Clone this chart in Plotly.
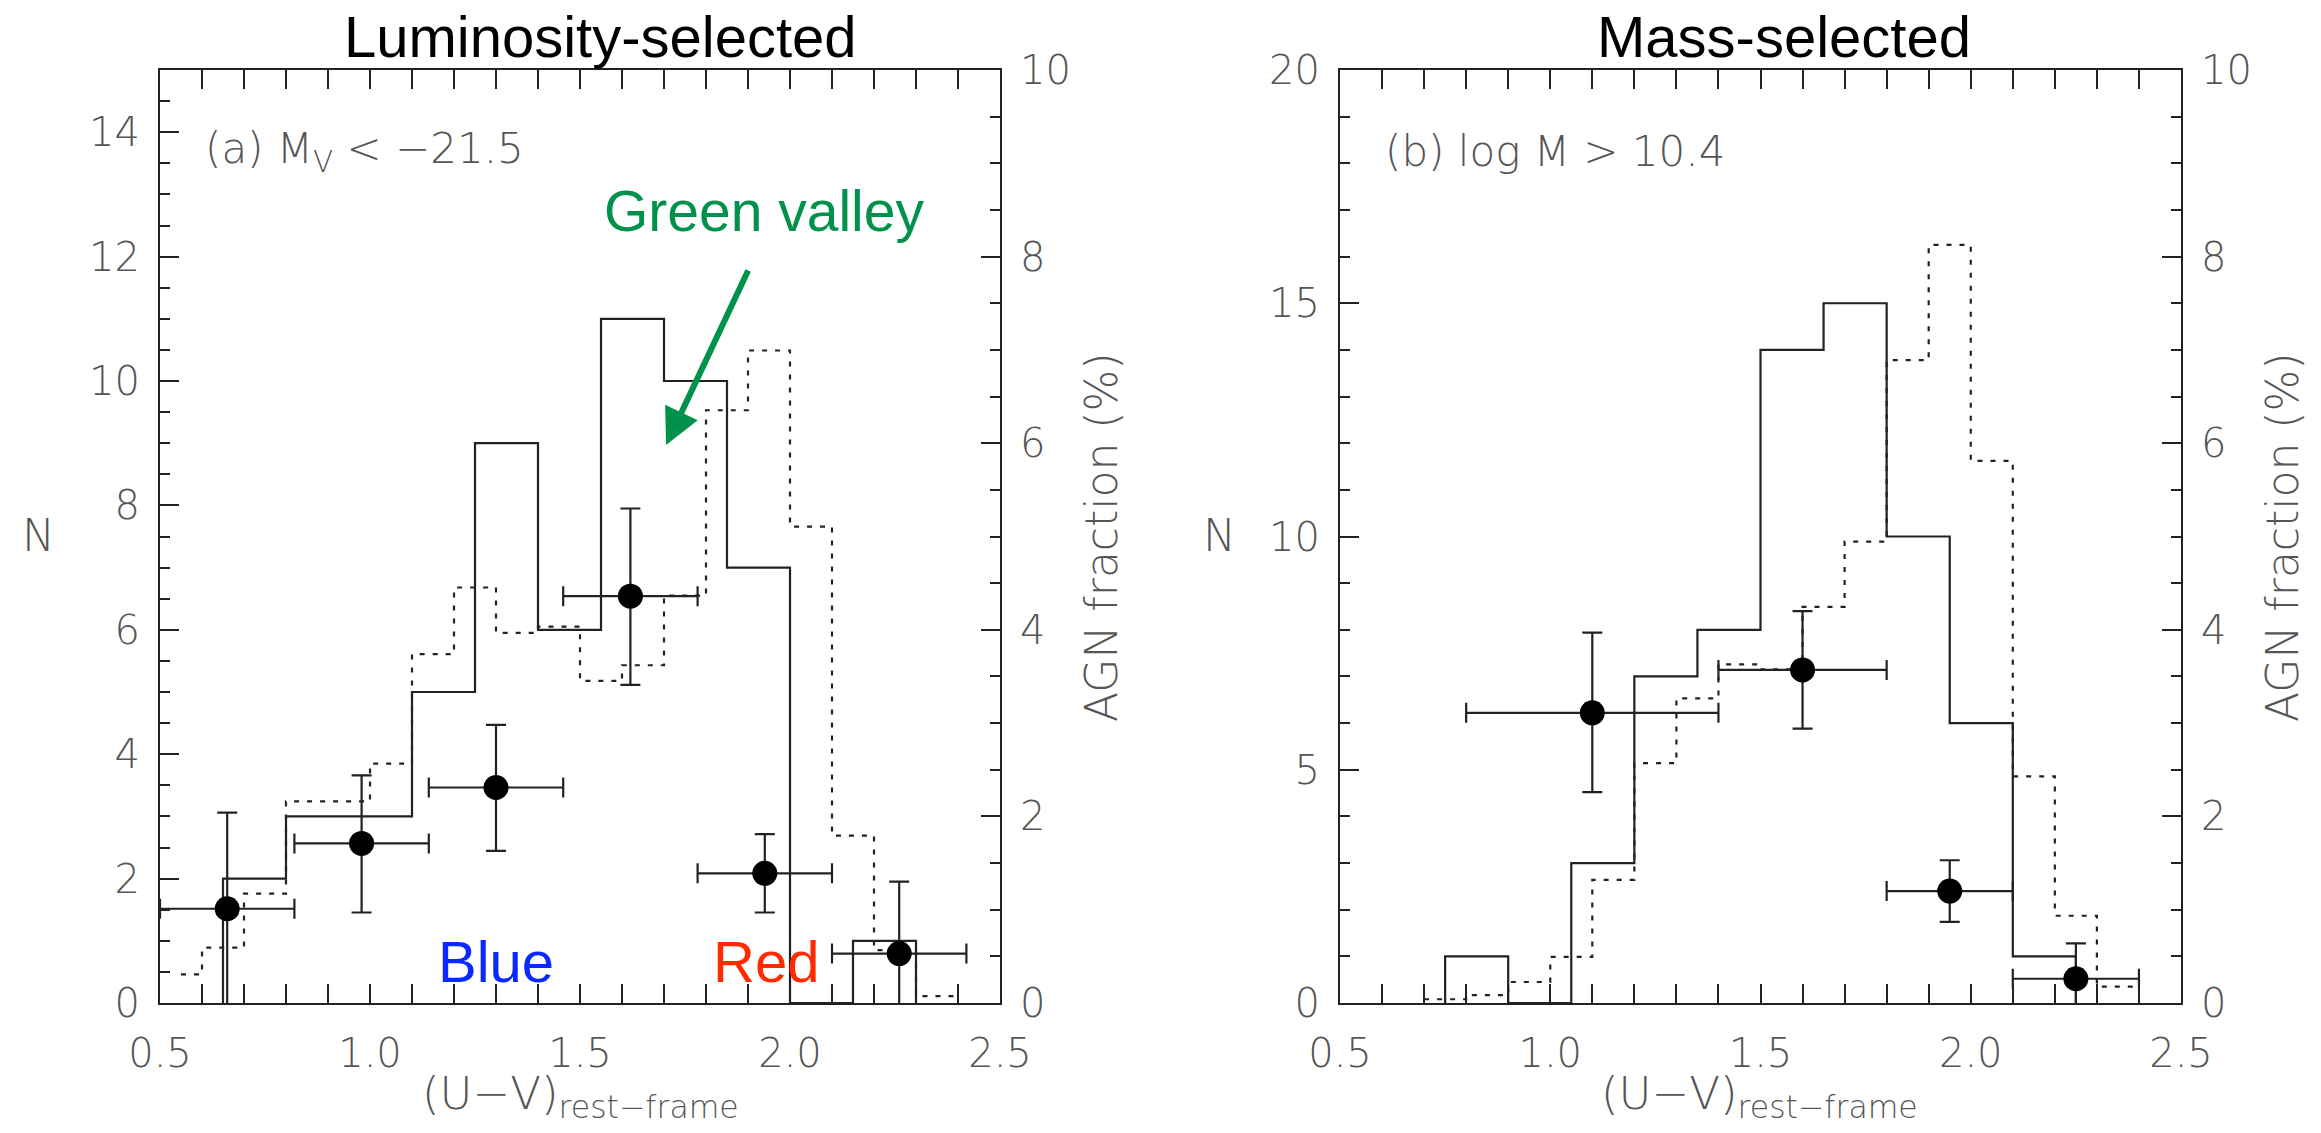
import plotly.graph_objects as go

# ---- (a) luminosity-selected sample, M_V < -21.5 ----
lum_agn_hist_edges = [0.65, 0.80, 0.95, 1.10, 1.25, 1.40, 1.55, 1.70, 1.85, 2.00, 2.15, 2.30]
lum_agn_hist_counts = [2, 3, 3, 5, 9, 6, 11, 10, 7, 0, 1]
lum_gal_hist_edges = [0.55, 0.60, 0.70, 0.80, 0.90, 1.00, 1.10, 1.20, 1.30, 1.40, 1.50,
                      1.60, 1.70, 1.80, 1.90, 2.00, 2.10, 2.20, 2.30, 2.40]
lum_gal_hist_counts = [0.46, 0.89, 1.76, 3.24, 3.24, 3.85, 5.61, 6.68, 5.95, 6.05, 5.18,
                       5.43, 6.55, 9.53, 10.49, 7.66, 2.69, 0.85, 0.11]
lum_frac_color = [0.66, 0.98, 1.30, 1.62, 1.94, 2.26]
lum_frac_dcolor = [0.16, 0.16, 0.16, 0.16, 0.16, 0.16]
lum_frac = [1.01, 1.71, 2.31, 4.36, 1.39, 0.53]
lum_frac_err_hi = [1.03, 0.73, 0.67, 0.94, 0.42, 0.77]
lum_frac_err_lo = [1.04, 0.74, 0.68, 0.95, 0.42, 0.77]

# ---- (b) mass-selected sample, log M > 10.4 ----
mass_agn_hist_edges = [0.75, 0.90, 1.05, 1.20, 1.35, 1.50, 1.65, 1.80, 1.95, 2.10, 2.25]
mass_agn_hist_counts = [1, 0, 3, 7, 8, 14, 15, 10, 6, 1]
mass_gal_hist_edges = [0.70, 0.80, 0.90, 1.00, 1.10, 1.20, 1.30, 1.40, 1.50, 1.60, 1.70,
                       1.80, 1.90, 2.00, 2.10, 2.20, 2.30, 2.40]
mass_gal_hist_counts = [0.08, 0.17, 0.45, 0.99, 2.64, 5.14, 6.53, 7.26, 7.15, 8.49, 9.89,
                        13.78, 16.25, 11.62, 4.86, 1.87, 0.35]
mass_frac_color = [1.10, 1.60, 1.95, 2.25]
mass_frac_dcolor = [0.30, 0.20, 0.15, 0.15]
mass_frac = [3.11, 3.57, 1.20, 0.26]
mass_frac_err_hi = [0.86, 0.63, 0.33, 0.38]
mass_frac_err_lo = [0.85, 0.63, 0.33, 0.37]

x_ticks = [0.5, 1.0, 1.5, 2.0, 2.5]
x_ticktext = ["0.5", "1.0", "1.5", "2.0", "2.5"]

W, H = 2321, 1133
INK = "#222222"
LABEL = "#555555"
THIN = dict(family="DejaVu Sans, Roboto, sans-serif", weight=200, color=LABEL)


def closed_steps(edges, counts):
    """Outline of a histogram that starts and ends on zero."""
    xs = [edges[0]] + list(edges)
    ys = [0] + list(counts) + [0]
    return xs, ys


def open_steps(edges, counts):
    """Step outline with no drop to zero at either end."""
    return list(edges), list(counts) + [counts[-1]]


fig = go.Figure()


def add_panel(xa, ya_n, ya_f, agn_edges, agn_counts, gal_edges, gal_counts,
              fx, fdx, fy, fhi, flo):
    sx, sy = closed_steps(agn_edges, agn_counts)
    fig.add_trace(go.Scatter(x=sx, y=sy, mode="lines", line_shape="hv",
                             line=dict(color=INK, width=2.2),
                             xaxis=xa, yaxis=ya_n, showlegend=False, hoverinfo="skip"))
    dx, dy = open_steps(gal_edges, gal_counts)
    fig.add_trace(go.Scatter(x=dx, y=dy, mode="lines", line_shape="hv",
                             line=dict(color=INK, width=2.2, dash="5px,8px"),
                             xaxis=xa, yaxis=ya_n, showlegend=False, hoverinfo="skip"))
    fig.add_trace(go.Scatter(
        x=fx, y=fy, mode="markers", cliponaxis=False,
        marker=dict(color="black", size=25),
        error_x=dict(type="data", array=fdx, arrayminus=fdx, color=INK, thickness=2.2, width=10),
        error_y=dict(type="data", array=fhi, arrayminus=flo, color=INK, thickness=2.2, width=10),
        xaxis=xa, yaxis=ya_f, showlegend=False, hoverinfo="skip"))


add_panel("x", "y", "y2", lum_agn_hist_edges, lum_agn_hist_counts,
          lum_gal_hist_edges, lum_gal_hist_counts,
          lum_frac_color, lum_frac_dcolor, lum_frac, lum_frac_err_hi, lum_frac_err_lo)
add_panel("x2", "y3", "y4", mass_agn_hist_edges, mass_agn_hist_counts,
          mass_gal_hist_edges, mass_gal_hist_counts,
          mass_frac_color, mass_frac_dcolor, mass_frac, mass_frac_err_hi, mass_frac_err_lo)

tickfont = dict(size=40, **THIN)
common = dict(showgrid=False, zeroline=False, showline=True, linecolor=INK, linewidth=2,
              ticks="inside", ticklen=19, tickwidth=2, tickcolor=INK, tickfont=tickfont,
              automargin=False)

y_dom = [1 - 1003 / H, 1 - 70 / H]


def xaxis(dom, anchor):
    return dict(common, domain=dom, anchor=anchor, range=[0.5, 2.5], mirror="allticks",
                tickmode="array", tickvals=x_ticks, ticktext=x_ticktext,
                ticklabelstandoff=14,
                minor=dict(tick0=0.5, dtick=0.1, ticks="inside", ticklen=10,
                           tickwidth=2, tickcolor=INK))


def yaxis(anchor, rng, dtick, minor_dtick, side="left", overlay=None):
    d = dict(common, domain=y_dom, anchor=anchor, range=rng, dtick=dtick, tick0=0,
             side=side, ticklabelstandoff=10,
             minor=dict(tick0=0, dtick=minor_dtick, ticks="inside", ticklen=10,
                        tickwidth=2, tickcolor=INK))
    if overlay:
        d["overlaying"] = overlay
    return d


fig.update_layout(
    template="none",
    width=W, height=H,
    margin=dict(l=0, r=0, t=0, b=0, autoexpand=False),
    paper_bgcolor="white", plot_bgcolor="white",
    xaxis=xaxis([160 / W, 1000 / W], "y"),
    yaxis=yaxis("x", [0, 15], 2, 0.5),
    yaxis2=yaxis("x", [0, 10], 2, 0.5, side="right", overlay="y"),
    xaxis2=xaxis([1340 / W, 2181 / W], "y3"),
    yaxis3=yaxis("x2", [0, 20], 5, 1),
    yaxis4=yaxis("x2", [0, 10], 2, 0.5, side="right", overlay="y3"),
)


def px(x, y):
    return x / W, 1 - y / H


def note(text, x, y, size, color=LABEL, family=None, weight=200, xanchor="center",
         angle=0):
    fx, fy = px(x, y)
    font = dict(size=size, color=color, family=family or THIN["family"], weight=weight)
    fig.add_annotation(text=text, x=fx, y=fy, xref="paper", yref="paper",
                       xanchor=xanchor, yanchor="middle", showarrow=False,
                       font=font, textangle=angle)


SANS = "Liberation Sans, Arial, sans-serif"

# panel titles
note("Luminosity-selected", 600, 37, 58, color="black", family=SANS, weight=400)
note("Mass-selected", 1784, 37, 58, color="black", family=SANS, weight=400)

# sample labels
note("(a) M<sub>V</sub> &lt; \u221221.5", 203, 152, 42, xanchor="left")
note("(b) log M &gt; 10.4", 1383, 152, 42, xanchor="left")

# axis titles
for cx, nx, fxp in [(580, 39, 1101), (1760, 1219, 2282)]:
    note("(U\u2212V)<sub>rest\u2212frame</sub>", cx, 1096, 45)
    note("N", nx, 536, 44)
    note("AGN fraction (%)", fxp, 538, 44, angle=-90)

# colour-region labels
note("Green valley", 764, 211, 57, color="#00924a", family=SANS, weight=400)
note("Blue", 496, 961, 58, color="#0a28ff", family=SANS, weight=400)
note("Red", 766, 961, 58, color="#ff2a00", family=SANS, weight=400)

# arrow pointing into the green valley
fig.add_annotation(x=1.705, y=8.97, ax=1.902, ay=11.8, xref="x", yref="y",
                   axref="x", ayref="y", text="", showarrow=True,
                   arrowhead=2, arrowsize=1.2, arrowwidth=6, arrowcolor="#00924a")

fig.write_html("out.html")
